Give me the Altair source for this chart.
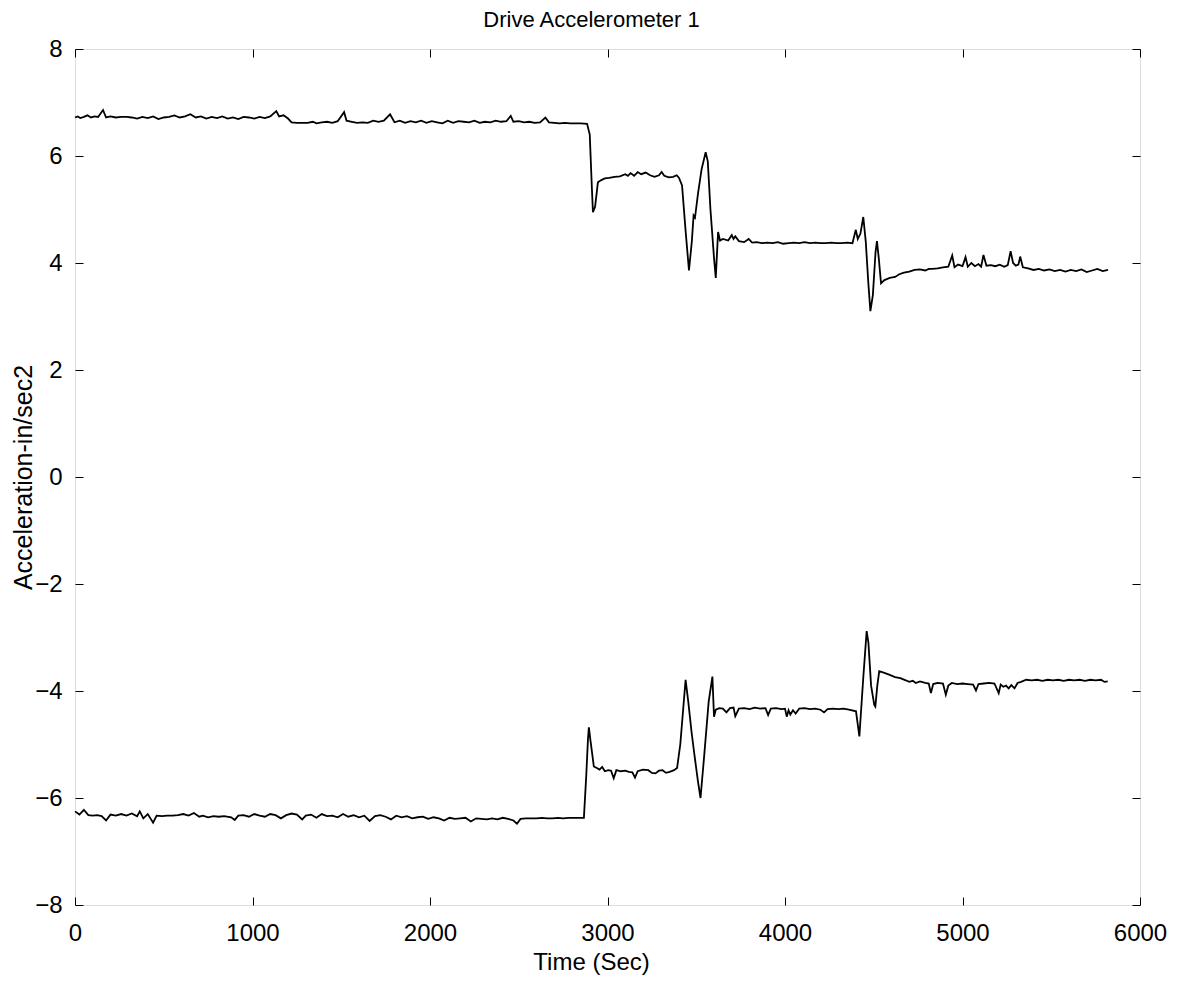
import altair as alt
import pandas as pd

# ---- data ----
upper_t = [0, 15, 30, 50, 70, 90, 110, 130, 158, 175, 200, 230, 260, 290, 320, 350, 380, 410, 440, 470,
           500, 530, 560, 590, 620, 650, 680, 710, 740, 770, 800, 830, 860, 890, 920, 950, 980, 1010, 1040, 1070,
           1100, 1134, 1150, 1175, 1200, 1220, 1250, 1280, 1310, 1340, 1360, 1390, 1420, 1450, 1480, 1516, 1530, 1560, 1590, 1620,
           1650, 1680, 1710, 1740, 1775, 1800, 1830, 1860, 1890, 1920, 1950, 1980, 2010, 2040, 2070, 2100, 2130, 2160, 2190, 2220,
           2250, 2280, 2310, 2340, 2370, 2400, 2430, 2455, 2470, 2500, 2530, 2560, 2590, 2620, 2650, 2670, 2700, 2730, 2760, 2790,
           2820, 2850, 2885, 2900, 2912, 2918, 2930, 2946, 2965, 2985, 3010, 3040, 3070, 3100, 3115, 3130, 3150, 3170, 3190, 3215,
           3240, 3265, 3290, 3305, 3320, 3345, 3370, 3390, 3403, 3420, 3440, 3459, 3475, 3485, 3493, 3510, 3530, 3553, 3565, 3580,
           3600, 3610, 3623, 3634, 3650, 3680, 3700, 3710, 3720, 3740, 3770, 3795, 3815, 3840, 3870, 3900, 3930, 3960, 3990, 4020,
           4050, 4080, 4110, 4140, 4170, 4200, 4230, 4260, 4290, 4320, 4350, 4380, 4399, 4410, 4425, 4441, 4455, 4470, 4481, 4495,
           4510, 4518, 4528, 4541, 4560, 4590, 4620, 4644, 4670, 4700, 4730, 4760, 4790, 4810, 4831, 4860, 4890, 4920, 4942, 4955,
           4975, 5000, 5017, 5030, 5050, 5070, 5090, 5105, 5118, 5135, 5160, 5185, 5210, 5235, 5255, 5271, 5285, 5300, 5315, 5325,
           5340, 5370, 5400, 5430, 5460, 5490, 5520, 5550, 5580, 5610, 5640, 5670, 5700, 5730, 5760, 5790, 5820]
upper_v = [6.72, 6.74, 6.71, 6.73, 6.76, 6.72, 6.74, 6.73, 6.86, 6.72, 6.74, 6.72, 6.73, 6.73, 6.72, 6.70, 6.73, 6.71, 6.74, 6.69,
           6.72, 6.73, 6.76, 6.72, 6.74, 6.78, 6.72, 6.74, 6.70, 6.73, 6.71, 6.74, 6.70, 6.72, 6.69, 6.73, 6.72, 6.70, 6.73, 6.71,
           6.74, 6.84, 6.74, 6.76, 6.70, 6.63, 6.62, 6.62, 6.62, 6.64, 6.61, 6.63, 6.64, 6.62, 6.65, 6.82, 6.66, 6.64, 6.62, 6.63,
           6.62, 6.66, 6.64, 6.66, 6.78, 6.63, 6.66, 6.62, 6.65, 6.63, 6.66, 6.62, 6.65, 6.63, 6.61, 6.66, 6.62, 6.65, 6.64, 6.63,
           6.66, 6.62, 6.64, 6.63, 6.66, 6.64, 6.65, 6.75, 6.64, 6.65, 6.63, 6.64, 6.62, 6.63, 6.72, 6.63, 6.62, 6.61, 6.62, 6.61,
           6.61, 6.61, 6.60, 6.40, 5.40, 4.95, 5.05, 5.51, 5.55, 5.58, 5.59, 5.61, 5.62, 5.66, 5.63, 5.68, 5.63, 5.70, 5.66, 5.69,
           5.64, 5.61, 5.64, 5.70, 5.63, 5.60, 5.61, 5.64, 5.59, 5.45, 4.60, 3.86, 4.40, 4.89, 4.85, 5.30, 5.75, 6.07, 5.90, 5.00,
           4.10, 3.72, 4.58, 4.42, 4.45, 4.42, 4.52, 4.45, 4.50, 4.41, 4.39, 4.45, 4.38, 4.39, 4.37, 4.38, 4.37, 4.39, 4.36, 4.37,
           4.38, 4.37, 4.39, 4.37, 4.38, 4.37, 4.37, 4.38, 4.37, 4.37, 4.38, 4.37, 4.62, 4.45, 4.55, 4.86, 4.40, 3.60, 3.10, 3.40,
           4.20, 4.41, 4.10, 3.62, 3.68, 3.72, 3.74, 3.79, 3.82, 3.84, 3.87, 3.88, 3.86, 3.89, 3.89, 3.90, 3.92, 3.93, 4.14, 3.92,
           3.97, 3.94, 4.11, 3.93, 4.00, 3.94, 3.98, 3.93, 4.15, 3.95, 3.96, 3.94, 3.97, 3.93, 3.96, 4.22, 4.00, 3.95, 3.97, 4.12,
           3.92, 3.90, 3.87, 3.89, 3.86, 3.88, 3.85, 3.87, 3.84, 3.87, 3.85, 3.88, 3.83, 3.86, 3.89, 3.85, 3.87]

lower_t = [0, 25, 50, 75, 100, 125, 150, 175, 200, 230, 260, 290, 320, 350, 365, 385, 410, 440, 460, 490,
           520, 550, 580, 610, 640, 670, 700, 720, 750, 780, 810, 840, 880, 900, 920, 950, 980, 1010, 1040, 1070,
           1100, 1130, 1160, 1190, 1220, 1250, 1280, 1300, 1330, 1360, 1390, 1420, 1450, 1480, 1510, 1540, 1570, 1600, 1630, 1660,
           1690, 1720, 1750, 1780, 1810, 1840, 1870, 1900, 1930, 1960, 1990, 2020, 2050, 2080, 2110, 2140, 2170, 2200, 2230, 2260,
           2290, 2320, 2350, 2380, 2410, 2440, 2470, 2490, 2510, 2540, 2570, 2600, 2630, 2660, 2690, 2720, 2750, 2780, 2810, 2840,
           2867, 2880, 2890, 2895, 2905, 2923, 2940, 2955, 2970, 2985, 3005, 3020, 3035, 3050, 3075, 3100, 3120, 3140, 3155, 3170,
           3200, 3230, 3250, 3270, 3290, 3310, 3330, 3350, 3375, 3392, 3410, 3440, 3455, 3474, 3490, 3510, 3524, 3545, 3570, 3591,
           3600, 3610, 3630, 3650, 3670, 3690, 3710, 3720, 3740, 3770, 3800, 3830, 3860, 3890, 3905, 3920, 3950, 3980, 4000, 4010,
           4020, 4030, 4045, 4060, 4080, 4110, 4140, 4170, 4200, 4220, 4240, 4270, 4300, 4330, 4360, 4400, 4419, 4440, 4460, 4470,
           4485, 4503, 4509, 4520, 4531, 4560, 4590, 4620, 4650, 4680, 4700, 4720, 4737, 4760, 4790, 4810, 4822, 4835, 4860, 4890,
           4906, 4920, 4940, 4970, 5000, 5030, 5060, 5076, 5090, 5120, 5150, 5180, 5204, 5215, 5230, 5245, 5260, 5275, 5293, 5310,
           5330, 5359, 5390, 5420, 5450, 5480, 5510, 5540, 5570, 5600, 5630, 5660, 5690, 5720, 5750, 5780, 5800, 5818]
lower_v = [-6.25, -6.31, -6.22, -6.32, -6.33, -6.32, -6.34, -6.42, -6.31, -6.33, -6.30, -6.33, -6.29, -6.34, -6.25, -6.38, -6.30, -6.46, -6.33, -6.34,
           -6.33, -6.33, -6.32, -6.30, -6.33, -6.28, -6.35, -6.33, -6.36, -6.34, -6.35, -6.34, -6.36, -6.41, -6.33, -6.32, -6.35, -6.30, -6.33, -6.35,
           -6.30, -6.32, -6.38, -6.32, -6.29, -6.31, -6.40, -6.33, -6.31, -6.37, -6.30, -6.34, -6.33, -6.36, -6.30, -6.35, -6.32, -6.36, -6.33, -6.43,
           -6.34, -6.32, -6.35, -6.40, -6.33, -6.36, -6.34, -6.38, -6.36, -6.35, -6.39, -6.36, -6.38, -6.42, -6.37, -6.39, -6.38, -6.37, -6.44, -6.38,
           -6.39, -6.40, -6.38, -6.40, -6.37, -6.39, -6.42, -6.48, -6.39, -6.38, -6.38, -6.38, -6.37, -6.38, -6.38, -6.37, -6.38, -6.37, -6.37, -6.37,
           -6.37, -5.60, -4.90, -4.68, -4.95, -5.41, -5.44, -5.47, -5.42, -5.50, -5.48, -5.49, -5.63, -5.48, -5.50, -5.49, -5.51, -5.52, -5.62, -5.50,
           -5.47, -5.48, -5.53, -5.54, -5.49, -5.48, -5.53, -5.51, -5.48, -5.44, -5.00, -3.79, -4.20, -4.78, -5.20, -5.70, -6.00, -5.20, -4.20, -3.73,
           -4.48, -4.35, -4.32, -4.33, -4.40, -4.32, -4.31, -4.47, -4.33, -4.32, -4.34, -4.31, -4.33, -4.32, -4.45, -4.33, -4.32, -4.34, -4.33, -4.48,
           -4.36, -4.44, -4.36, -4.42, -4.33, -4.32, -4.34, -4.33, -4.35, -4.40, -4.34, -4.33, -4.34, -4.33, -4.35, -4.38, -4.85, -3.80, -2.88, -3.10,
           -3.90, -4.26, -4.29, -3.90, -3.63, -3.66, -3.70, -3.74, -3.76, -3.80, -3.83, -3.81, -3.85, -3.82, -3.85, -3.86, -4.04, -3.87, -3.85, -3.86,
           -4.07, -3.90, -3.85, -3.87, -3.86, -3.87, -3.88, -3.99, -3.87, -3.86, -3.85, -3.86, -4.04, -3.88, -3.92, -3.90, -3.95, -3.89, -3.95, -3.85,
           -3.83, -3.79, -3.80, -3.79, -3.81, -3.79, -3.80, -3.79, -3.81, -3.79, -3.80, -3.79, -3.81, -3.79, -3.80, -3.79, -3.83, -3.82]

x_ticks = [0, 1000, 2000, 3000, 4000, 5000, 6000]
y_ticks = [-8, -6, -4, -2, 0, 2, 4, 6, 8]

df = pd.concat([
    pd.DataFrame({"t": upper_t, "v": upper_v, "s": "upper"}),
    pd.DataFrame({"t": lower_t, "v": lower_v, "s": "lower"}),
], ignore_index=True)

FONT = "Liberation Sans"
xs = alt.Scale(domain=[0, 6000], nice=False, zero=False)
ys = alt.Scale(domain=[-8, 8], nice=False, zero=False)

common = dict(offset=-8, tickSize=8, domain=False, grid=False, tickColor="black",
              tickWidth=1, labelColor="black", labelFont=FONT, labelFontSize=24,
              titleFont=FONT, titleColor="black", titleFontWeight="normal",
              labelFlush=False, labelOverlap=False, format="d")

base = alt.Chart(df)

main = base.mark_line(color="black", strokeWidth=1.8).encode(
    x=alt.X("t:Q", scale=xs,
            axis=alt.Axis(orient="bottom", values=x_ticks, title="Time (Sec)",
                          labelPadding=16, titlePadding=5, titleFontSize=24,
                          titleX=516, titleAlign="center", **common)),
    y=alt.Y("v:Q", scale=ys,
            axis=alt.Axis(orient="left", values=y_ticks, title="Acceleration-in/sec2",
                          labelPadding=13, titleFontSize=25,
                          titleX=-60, titleY=428, titleAngle=270,
                          titleAlign="center", titleBaseline="middle", **common)),
    detail="s:N",
)

frame = base.mark_line(strokeOpacity=0).encode(
    x=alt.X("t:Q", scale=xs,
            axis=alt.Axis(orient="top", values=x_ticks, title="", labels=False, **common)),
    y=alt.Y("v:Q", scale=ys,
            axis=alt.Axis(orient="right", values=y_ticks, title="", labels=False, **common)),
    detail="s:N",
)

chart = alt.layer(main, frame).resolve_axis(x="independent", y="independent").properties(
    width=1065, height=856,
    title=alt.TitleParams("Drive Accelerometer 1", font=FONT, fontSize=22, fontWeight="normal",
                          color="black", offset=5, dx=-16),
    autosize=alt.AutoSizeParams(type="none"),
    padding={"left": 67, "top": 41, "right": 34, "bottom": 73},
).configure_view(stroke="black", strokeWidth=1.2).configure(background="white")

chart.save("out.html", embed_options={"renderer": "svg", "actions": False})
